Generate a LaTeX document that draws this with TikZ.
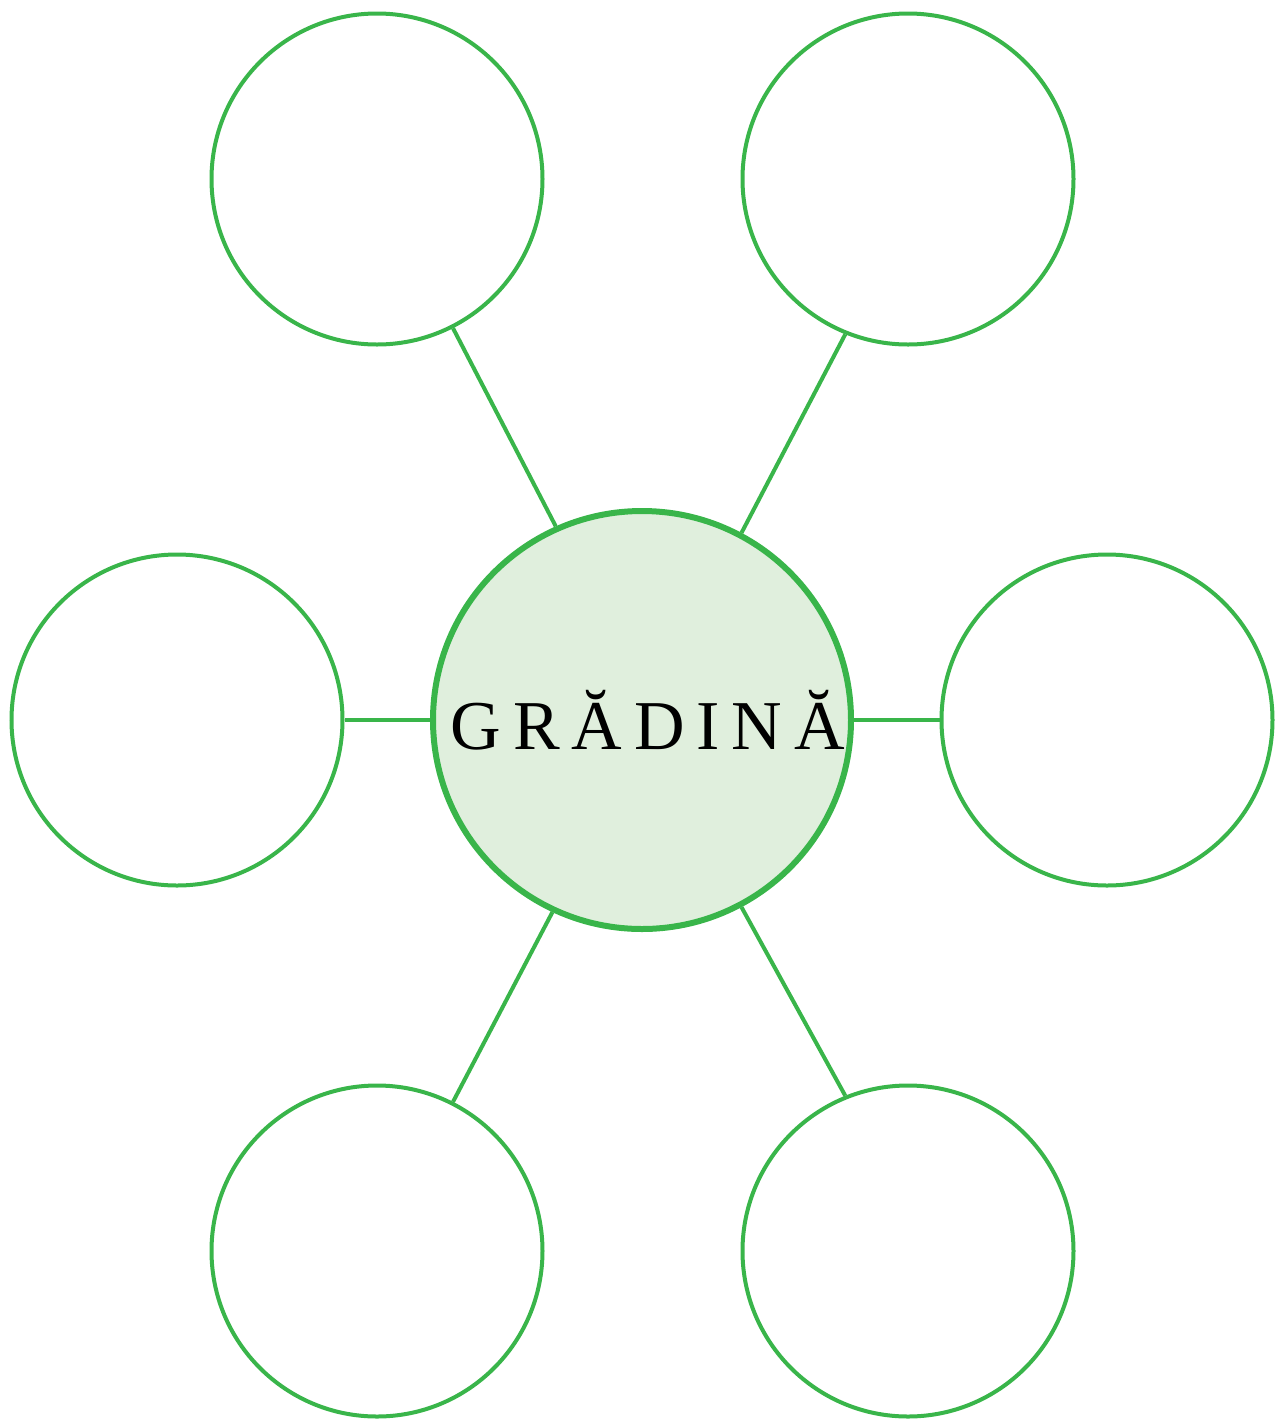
\documentclass[tikz,border=0pt]{standalone}
\usepackage{fontspec}
\setmainfont{Liberation Serif}
\usepackage{xcolor}
\definecolor{leafGreen}{HTML}{39B54A}
\definecolor{hubFill}  {HTML}{E0EFDD}
\tikzset{
  hub/.style={circle,draw=leafGreen,fill=hubFill,line width=3pt,minimum size=209pt,inner sep=0pt,
    font=\fontsize{35}{40}\selectfont\addfontfeature{LetterSpace=17}},
  leaf/.style={circle,draw=leafGreen,fill=white,line width=2pt,minimum size=165.5pt,inner sep=0pt},
  link/.style={draw=leafGreen,line width=2pt},
}
\begin{document}
\begin{tikzpicture}[x=0.5pt,y=-0.5pt]
\useasboundingbox (0,0) rectangle (1284,1420);

\node[hub] (garden) at (642,720) {\hspace*{0.17em}GRĂDINĂ};

\node[leaf] (nw) at (377,179) {};
\node[leaf] (ne) at (908,179) {};
\node[leaf] (w)  at (177,720) {};
\node[leaf] (e)  at (1107,720) {};
\node[leaf] (sw) at (377,1251) {};
\node[leaf] (se) at (908,1251) {};

\draw[link] (garden.114) -- (nw.297);
\draw[link] (garden.62) -- (ne.248);
\draw[link] (garden) -- (w);
\draw[link] (garden) -- (e);
\draw[link] (garden.245) -- (sw.63);
\draw[link] (garden.298) -- (se.112);

\end{tikzpicture}
\end{document}
